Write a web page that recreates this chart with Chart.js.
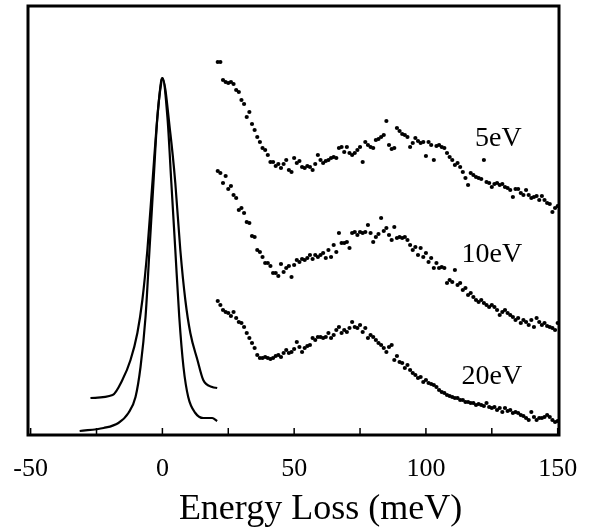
<!DOCTYPE html>
<html>
<head>
<meta charset="utf-8">
<script src="https://cdn.jsdelivr.net/npm/chart.js@4"></script>
<style>
  html, body { margin: 0; padding: 0; background: #fff; }
  #wrap { width: 592px; height: 531px; }
</style>
</head>
<body>
<div id="wrap"><canvas id="eels"></canvas></div>
<script>
// elastic peaks (two incident energies), energy loss in meV
var peakAx = [-27.3, -18.9, -15.2, -12.1, -9.5, -7.6, -5.7, -3.8, -1.9, -0.4, 0, 3.0, 4.9, 6.8, 8.7, 10.6, 13.3, 15.5, 18.9, 20.8];
var peakAy = [37, 40, 55, 75, 102, 135, 185, 252, 318, 355, 357, 302, 252, 185, 135, 102, 75, 55, 48, 47];
var peakBx = [-31.4, -22.3, -16.7, -12.9, -10.2, -8.3, -6.4, -4.9, -3.4, -1.9, -0.4, 0, 1.9, 3.4, 4.9, 6.4, 8.0, 9.8, 12.5, 15.5, 18.9, 20.8];
var peakBy = [4, 7, 12, 22, 38, 68, 118, 185, 252, 318, 353, 357, 318, 252, 185, 118, 68, 38, 22, 17, 17, 14];

// loss spectra, one point per meV from 21 to 150
var lossEnergy = Array.from({length: 130}, (_, i) => 21 + i);

var loss5eV = [
  373, 373, 355, 353, 352, 353, 351, 345, 343, 335,
  331, 318, 323, 311, 305, 298, 293, 287, 285, 280,
  273, 273, 269, 271, 267, 271, 275, 265, 263, 277,
  272, 274, 268, 267, 269, 268, 265, 271, 280, 275,
  272, 274, 275, 277, 278, 277, 287, 288, 283, 288,
  282, 280, 282, 285, 288, 273, 293, 290, 288, 287,
  295, 296, 298, 300, 314, 290, 286, 287, 307, 304,
  301, 300, 298, 288, 292, 297, 294, 292, 293, 279,
  293, 290, 275, 289, 290, 288, 287, 282, 278, 275,
  270, 272, 268, 263, 257, 250, 262, 260, 258, 257,
  256, 275, 253, 252, 248, 251, 252, 250, 251, 248,
  247, 245, 238, 246, 246, 242, 240, 245, 240, 237,
  238, 239, 235, 239, 235, 232, 231, 223, 227, 229
];
var loss10eV = [
  264, 262, 252, 259, 246, 249, 240, 237, 225, 227,
  222, 213, 212, 199, 198, 185, 183, 178, 172, 172,
  169, 162, 162, 159, 171, 163, 167, 169, 158, 170,
  175, 173, 176, 175, 177, 180, 176, 180, 178, 180,
  182, 177, 185, 178, 190, 183, 202, 192, 192, 193,
  187, 202, 203, 200, 203, 202, 203, 210, 202, 193,
  198, 201, 217, 204, 207, 200, 195, 208, 197, 198,
  197, 198, 195, 190, 185, 188, 180, 187, 178, 182,
  173, 177, 167, 172, 167, 168, 167, 152, 155, 153,
  165, 150, 152, 145, 147, 140, 142, 138, 135, 133,
  135, 132, 130, 128, 130, 128, 125, 120, 123, 125,
  122, 120, 118, 115, 117, 112, 115, 113, 110, 115,
  108, 117, 113, 110, 112, 109, 108, 107, 105, 112
];
var loss20eV = [
  134, 130, 125, 123, 122, 119, 123, 117, 113, 112,
  108, 102, 97, 92, 87, 80, 77, 77, 78, 77,
  76, 77, 79, 80, 78, 82, 85, 82, 83, 86,
  93, 88, 83, 87, 89, 90, 97, 95, 98, 98,
  97, 98, 102, 97, 100, 105, 108, 102, 105, 103,
  107, 113, 108, 107, 110, 103, 107, 97, 100, 98,
  95, 92, 90, 87, 83, 88, 90, 75, 79, 73,
  72, 67, 70, 65, 62, 60, 57, 58, 53, 55,
  52, 51, 50, 48, 45, 43, 42, 40, 39, 38,
  37, 37, 35, 35, 33, 33, 32, 32, 30, 31,
  30, 29, 32, 28, 27, 28, 25, 27, 23, 27,
  24, 25, 22, 23, 22, 20, 19, 17, 15, 23,
  18, 15, 17, 17, 18, 20, 18, 15, 13, 14
];

var xTicks = [-50, -25, 0, 25, 50, 75, 100, 125, 150];
var seriesLabels = ["5eV", "10eV", "20eV"];
var labelAt = [[127.5, 296], [125, 180], [125, 58]]; // energy, intensity
var xTitle = "Energy Loss (meV)";

var serif = "'Liberation Serif', 'DejaVu Serif', serif";

var toPoints = (xs, ys) => xs.map((x, i) => ({x: x, y: ys[i]}));

function dotSet(values) {
  return {
    data: toPoints(lossEnergy, values),
    showLine: false,
    pointRadius: 2.1,
    pointBackgroundColor: "#000",
    pointBorderWidth: 0
  };
}

function lineSet(xs, ys) {
  return {
    data: toPoints(xs, ys),
    showLine: true,
    borderColor: "#000",
    borderWidth: 2.2,
    pointRadius: 0,
    cubicInterpolationMode: "monotone"
  };
}

// frame, inward tick marks, the eV labels and the axis title
const frame = {
  id: "frame",
  afterDatasetsDraw(chart) {
    const {ctx, chartArea: a, scales} = chart;
    ctx.save();
    ctx.strokeStyle = "#000";
    ctx.lineWidth = 1.5;
    xTicks.forEach(v => {
      const px = scales.x.getPixelForValue(v);
      ctx.beginPath();
      ctx.moveTo(px, a.bottom);
      ctx.lineTo(px, a.bottom - 7);
      ctx.stroke();
    });
    ctx.lineWidth = 3;
    ctx.strokeRect(a.left, a.top, a.right - a.left, a.bottom - a.top);
    ctx.fillStyle = "#000";
    ctx.font = "28px " + serif;
    ctx.textAlign = "center";
    ctx.textBaseline = "middle";
    seriesLabels.forEach((t, i) => {
      ctx.fillText(t, scales.x.getPixelForValue(labelAt[i][0]), scales.y.getPixelForValue(labelAt[i][1]));
    });
    // title sits a little right of the axis centre in the original
    ctx.font = "36px " + serif;
    ctx.fillText(xTitle, scales.x.getPixelForValue(60), a.bottom + 75);
    ctx.restore();
  }
};

new Chart(document.getElementById("eels"), {
  type: "scatter",
  data: {
    datasets: [
      lineSet(peakAx, peakAy),
      lineSet(peakBx, peakBy),
      dotSet(loss5eV),
      dotSet(loss10eV),
      dotSet(loss20eV)
    ]
  },
  options: {
    responsive: true,
    maintainAspectRatio: false,
    animation: false,
    layout: {padding: {left: 28, right: 33, top: 6, bottom: 1}},
    plugins: {legend: {display: false}, tooltip: {enabled: false}},
    scales: {
      x: {
        type: "linear",
        min: -51,
        max: 150.5,
        afterBuildTicks: scale => { scale.ticks = xTicks.map(v => ({value: v})); },
        afterFit: scale => {
          scale.height = 95;
          scale.paddingLeft = 0;
          scale.paddingRight = 0;
        },
        grid: {display: false, drawTicks: false},
        border: {display: false},
        ticks: {
          color: "#000",
          padding: 19,
          maxRotation: 0,
          font: {family: serif, size: 26},
          callback: v => (v % 50 === 0 ? String(v) : "")
        },
        title: {display: false}
      },
      y: {
        display: false,
        min: 0,
        max: 429
      }
    }
  },
  plugins: [frame]
});
</script>
</body>
</html>
